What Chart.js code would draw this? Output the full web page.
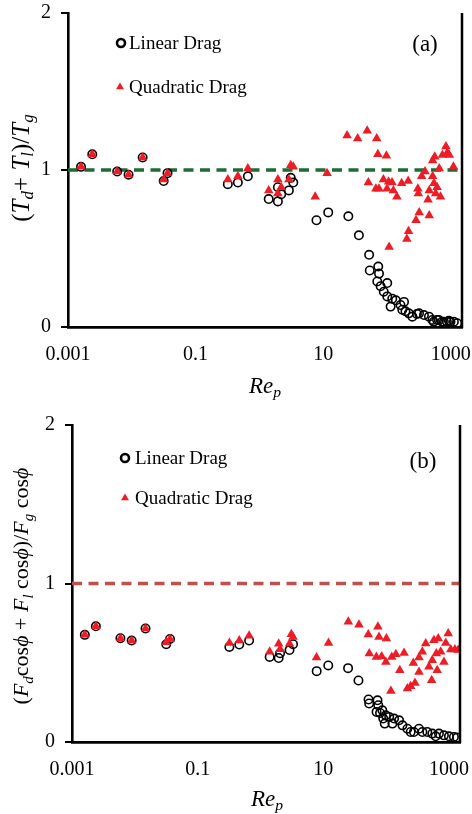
<!DOCTYPE html>
<html>
<head>
<meta charset="UTF-8">
<title>Rep ratio charts</title>
<script src="https://cdn.jsdelivr.net/npm/chart.js"></script>
<style>
    body { margin: 0; background: #fff; }
    #wrap { position: relative; width: 472px; height: 814px; overflow: hidden; }
    .panel { position: absolute; left: 0; width: 472px; height: 407px; }
    .ttl { position: absolute; white-space: nowrap; font-family: 'Liberation Serif', 'Times New Roman', serif; color: #000; line-height: 1; }
    .ytl { transform: translate(-50%, -50%) rotate(-90deg); }
    .xtl { transform: translate(-50%, -50%); font-size: 23px; }
    .ttl i { font-style: italic; }
    .ttl sub { font-size: 0.68em; vertical-align: -0.28em; font-style: italic; }
</style>
</head>
<body>
<div id="wrap">
    <div class="panel" style="top:0"><canvas id="chartA" width="472" height="407"></canvas></div>
    <div class="panel" style="top:407px"><canvas id="chartB" width="472" height="407"></canvas></div>

    <div class="ttl ytl" style="left:22px; top:168px; font-size:25px">(<i>T</i><sub>d</sub>+ <i>T</i><sub>l</sub>)/<i>T</i><sub>g</sub></div>
    <div class="ttl xtl" style="left:265px; top:387px"><i>Re</i><sub>p</sub></div>

    <div class="ttl ytl" style="left:23px; top:586px; font-size:22px">(<i>F</i><sub>d</sub>cos<i>ϕ</i> + <i>F</i><sub>l</sub> cos<i>ϕ</i>)/<i>F</i><sub>g</sub> cos<i>ϕ</i></div>
    <div class="ttl xtl" style="left:267px; top:800px"><i>Re</i><sub>p</sub></div>
</div>
<script>
// axis ticks
const xTicks = [0.001, 0.1, 10, 1000];
const yTicks = [0, 1, 2];
const xMin = 0.001, xMax = 1500;

// reference line y = 1
const refX = [0.001, 1500];
const refY = [1, 1];

// (a) torque ratio, linear drag
const linA_x = [0.0016, 0.0024, 0.0059, 0.0089, 0.0148, 0.0316, 0.0363,
    0.32, 0.46, 0.66,
    1.4, 1.95, 1.95, 2.2, 2.9, 3.1, 3.4,
    7.85, 12.0, 24.8, 36.3, 52.5, 53.7, 73, 75, 70.5, 101, 79.5, 89, 101, 121, 114, 138,
    163, 185, 174, 195, 220, 250, 295, 318, 380, 455, 515, 540, 610, 650, 730, 780, 870, 935, 990, 1120, 1260];
const linA_y = [1.02, 1.10, 0.99, 0.97, 1.08, 0.93, 0.98,
    0.91, 0.92, 0.96,
    0.815, 0.80, 0.89, 0.845, 0.87, 0.95, 0.92,
    0.68, 0.73, 0.705, 0.584, 0.46, 0.36, 0.385, 0.34, 0.29, 0.28, 0.26, 0.225, 0.195, 0.18, 0.13, 0.17,
    0.14, 0.16, 0.11, 0.10, 0.087, 0.066, 0.083, 0.087, 0.076, 0.066, 0.045, 0.034, 0.045, 0.045, 0.034, 0.034, 0.034, 0.04, 0.034, 0.034, 0.024];

// (a) torque ratio, quadratic drag
const quadA_x = [0.0016, 0.0024, 0.0059, 0.0089, 0.0148, 0.0316, 0.0363,
    0.32, 0.46, 0.66,
    1.4, 1.95, 1.95, 2.2, 2.9, 3.1, 3.4,
    7.5, 11.5, 23.7, 34.7, 49, 69, 72, 98, 51, 67, 75, 88, 100, 106, 120, 126, 143, 170, 215,
    108, 205, 218, 285, 320, 310, 305, 350, 395, 460, 440, 460, 520, 560, 520, 545, 580,
    660, 690, 740, 840, 880, 950, 1100, 610];
const quadA_y = [1.02, 1.10, 0.99, 0.97, 1.08, 0.94, 0.98,
    0.94, 0.96, 1.01,
    0.87, 0.85, 0.94, 0.89, 0.94, 1.03, 1.02,
    0.83, 0.98, 1.22, 1.20, 1.25, 1.20, 1.10, 1.09, 0.92, 0.88, 0.88, 0.94, 0.88, 0.925, 0.92, 0.87, 0.83, 0.915, 0.93,
    0.51, 0.56, 0.61, 0.68, 0.73, 0.85, 0.88, 0.96, 0.99, 0.71, 0.81, 0.87, 1.06, 1.085, 0.96, 0.915, 0.85,
    1.01, 0.83, 1.095, 1.15, 1.11, 1.095, 1.02, 0.89];

// (b) force ratio, linear drag
const linB_x = [0.0016, 0.0024, 0.0059, 0.0089, 0.0148, 0.0316, 0.0363,
    0.32, 0.46, 0.66,
    1.4, 1.95, 2.05, 2.9, 3.3,
    7.85, 12.0, 24.8, 36.3, 52.5, 53.7, 73, 75, 70.5, 80, 90, 95,
    87, 99, 112, 126, 134, 161, 182, 218, 246, 277, 333, 378, 452, 543, 615, 693, 832, 1000, 1200, 1350];
const linB_y = [0.676, 0.73, 0.655, 0.64, 0.716, 0.617, 0.65,
    0.60, 0.615, 0.64,
    0.537, 0.53, 0.56, 0.58, 0.617,
    0.447, 0.483, 0.466, 0.388, 0.268, 0.243, 0.263, 0.232, 0.19, 0.183, 0.148, 0.116,
    0.20, 0.168, 0.158, 0.116, 0.148, 0.137, 0.105, 0.084, 0.063, 0.063, 0.084, 0.063, 0.063, 0.053, 0.036, 0.053, 0.042, 0.036, 0.032, 0.028];

// (b) force ratio, quadratic drag
const quadB_x = [0.0016, 0.0024, 0.0059, 0.0089, 0.0148, 0.0316, 0.0363,
    0.32, 0.46, 0.66,
    1.4, 1.95, 2.05, 2.9, 3.1, 3.3,
    7.8, 12.1, 25, 37, 52, 74, 77, 101, 54, 70, 85, 99,
    123, 143, 119, 165, 193, 218, 246, 288, 271, 334, 334, 377, 427, 480, 531, 543, 576, 630, 650, 676,
    740, 832, 890, 975, 1070, 1245, 1400];
const quadB_y = [0.676, 0.73, 0.655, 0.64, 0.716, 0.63, 0.65,
    0.625, 0.64, 0.67,
    0.57, 0.62, 0.585, 0.62, 0.68, 0.663,
    0.533, 0.625, 0.758, 0.74, 0.678, 0.727, 0.663, 0.653, 0.558, 0.537, 0.54, 0.505,
    0.537, 0.554, 0.322, 0.453, 0.562, 0.337, 0.352, 0.373, 0.499, 0.442, 0.533, 0.569, 0.622, 0.474, 0.39, 0.516, 0.642, 0.558, 0.453, 0.653,
    0.569, 0.505, 0.625, 0.685, 0.584, 0.584, 0.58];

const FONT = "'Liberation Serif', 'Times New Roman', serif";
const RED = '#ee1c24';

function pts(xs, ys) {
    return xs.map((v, i) => ({ x: v, y: ys[i] }));
}

// right frame line, in-plot legend and panel tag
const decor = {
    id: 'decor',
    afterDraw(chart, args, opts) {
        const ctx = chart.ctx;
        const a = chart.chartArea;
        ctx.save();
        ctx.strokeStyle = '#000';
        ctx.lineWidth = 2.5;
        ctx.beginPath();
        ctx.moveTo(a.right, a.top);
        ctx.lineTo(a.right, a.bottom + 1);
        ctx.stroke();

        ctx.font = '19px ' + FONT;
        ctx.fillStyle = '#000';
        ctx.textBaseline = 'middle';
        ctx.textAlign = 'left';
        // circle marker
        ctx.lineWidth = 2.6;
        ctx.beginPath();
        ctx.arc(opts.lin[0], opts.lin[1], 4, 0, Math.PI * 2);
        ctx.stroke();
        ctx.fillText('Linear Drag', opts.lin[2], opts.lin[1] + 1);
        // triangle marker
        const tx = opts.quad[0], ty = opts.quad[1], r = 4.6;
        ctx.fillStyle = RED;
        ctx.beginPath();
        ctx.moveTo(tx, ty - r);
        ctx.lineTo(tx + r * 0.866, ty + r * 0.5);
        ctx.lineTo(tx - r * 0.866, ty + r * 0.5);
        ctx.closePath();
        ctx.fill();
        ctx.fillStyle = '#000';
        ctx.fillText('Quadratic Drag', opts.quad[2], opts.quad[1] + 1);

        ctx.font = '23px ' + FONT;
        ctx.textAlign = 'center';
        ctx.fillText(opts.tag, opts.tagPos[0], opts.tagPos[1]);
        ctx.restore();
    }
};

function makeChart(id, lin, quad, refColor, box, decorOpts) {
    new Chart(document.getElementById(id), {
        type: 'scatter',
        data: {
            datasets: [
                {
                    data: pts(quad[0], quad[1]),
                    pointStyle: 'triangle',
                    pointRadius: 5.5,
                    backgroundColor: RED,
                    borderColor: RED,
                    borderWidth: 0,
                    order: 0
                },
                {
                    data: pts(lin[0], lin[1]),
                    pointStyle: 'circle',
                    pointRadius: 4.2,
                    backgroundColor: 'rgba(255,255,255,0)',
                    borderColor: '#000',
                    borderWidth: 1.6,
                    order: 1
                },
                {
                    data: pts(refX, refY),
                    showLine: true,
                    pointRadius: 0,
                    borderColor: refColor,
                    borderWidth: 3.4,
                    borderDash: [10, 6.5],
                    order: 2
                }
            ]
        },
        options: {
            responsive: false,
            animation: false,
            layout: { padding: { left: 0, right: box.right, top: box.top, bottom: 0 } },
            plugins: {
                legend: { display: false },
                tooltip: { enabled: false },
                decor: decorOpts
            },
            scales: {
                x: {
                    type: 'logarithmic',
                    min: xMin,
                    max: xMax,
                    afterBuildTicks: s => { s.ticks = xTicks.map(v => ({ value: v })); },
                    afterFit: s => { s.height = box.xh; s.paddingLeft = 0; s.paddingRight = 0; },
                    grid: { display: false, drawTicks: false },
                    border: { display: true, color: '#000', width: 2.8 },
                    ticks: {
                        autoSkip: false,
                        maxRotation: 0,
                        padding: 16,
                        color: '#000',
                        font: { family: FONT, size: 20 },
                        callback: v => String(v)
                    }
                },
                y: {
                    min: 0,
                    max: 2,
                    afterBuildTicks: s => { s.ticks = yTicks.map(v => ({ value: v })); },
                    afterFit: s => { s.width = box.yw; s.paddingTop = 0; s.paddingBottom = 0; },
                    grid: { drawOnChartArea: false, drawTicks: true, tickLength: 7, color: '#000', lineWidth: 2 },
                    border: { display: true, color: '#000', width: 2.6 },
                    ticks: {
                        padding: 10,
                        color: '#000',
                        font: { family: FONT, size: 20 }
                    }
                }
            }
        },
        plugins: [decor]
    });
}

makeChart('chartA', [linA_x, linA_y], [quadA_x, quadA_y], '#1e6b35',
    { right: 10, top: 13, yw: 68, xh: 80 },
    { lin: [121, 43, 129], quad: [120, 87, 129], tag: '(a)', tagPos: [425, 45] });

makeChart('chartB', [linB_x, linB_y], [quadB_x, quadB_y], '#c0504d',
    { right: 12, top: 18, yw: 72, xh: 72 },
    { lin: [125, 51, 135], quad: [125, 91, 135], tag: '(b)', tagPos: [423, 55] });
</script>
</body>
</html>
